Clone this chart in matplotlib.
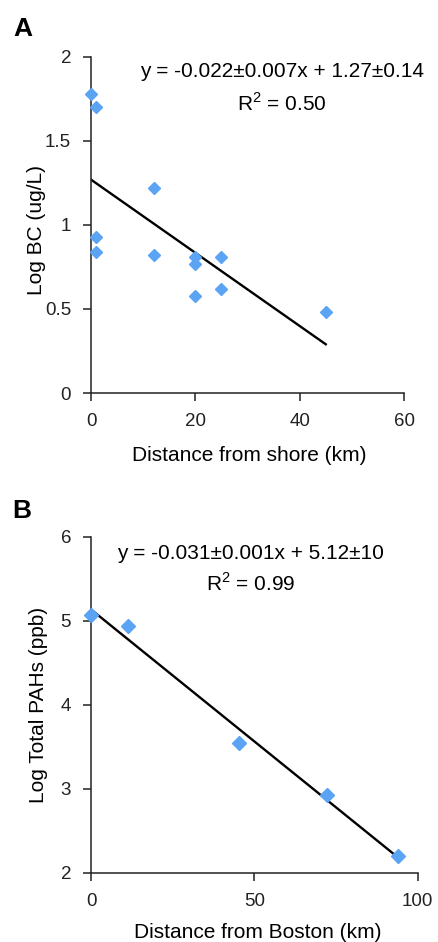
import matplotlib
matplotlib.use("Agg")
import matplotlib.pyplot as plt

plt.rcParams["font.family"] = ["Liberation Sans", "DejaVu Sans"]
plt.rcParams["mathtext.fontset"] = "custom"
plt.rcParams["mathtext.rm"] = "Liberation Sans"

# Panel A: black carbon vs distance from shore
shore_km = [0, 1, 1, 1, 12, 12, 20, 20, 20, 25, 25, 45]
log_bc = [1.78, 1.70, 0.93, 0.84, 1.22, 0.82, 0.81, 0.77, 0.58, 0.81, 0.62, 0.48]
fit_a_x = [0, 45]
fit_a_y = [1.27, 0.29]

# Panel B: total PAHs vs distance from Boston
boston_km = [0, 11.3, 45.2, 72.3, 94.1]
log_pah = [5.07, 4.94, 3.54, 2.93, 2.20]
fit_b_x = [0.5, 94]
fit_b_y = [5.12, 2.18]

blue = "#5BA4F4"
tick_fs = 13.5
lab_fs = 15
eq_fs = 15

fig = plt.figure(figsize=(4.38, 9.42), dpi=100)
ax1 = fig.add_axes([0.2078, 0.5828, 0.7146, 0.3567])
ax2 = fig.add_axes([0.2078, 0.0736, 0.746, 0.3564])

def style(ax):
    for s in ("top", "right"):
        ax.spines[s].set_visible(False)
    for s in ("left", "bottom"):
        ax.spines[s].set_linewidth(1.1)
        ax.spines[s].set_color("#222222")
    ax.tick_params(direction="out", length=5.8, width=1.1, labelsize=tick_fs,
                   colors="#222222", pad=8.5)

ax1.plot(shore_km, log_bc, "D", color=blue, markersize=5.8, zorder=3, clip_on=False)
ax1.plot(fit_a_x, fit_a_y, color="black", lw=1.7, zorder=2)
ax1.set_xlim(0, 60)
ax1.set_ylim(0, 2)
ax1.set_xticks([0, 20, 40, 60])
ax1.set_yticks([0, 0.5, 1, 1.5, 2])
ax1.set_yticklabels(["0", "0.5", "1", "1.5", "2"])
ax1.set_xlabel("Distance from shore (km)", fontsize=lab_fs)
ax1.set_ylabel("Log BC (ug/L)", fontsize=lab_fs)
ax1.xaxis.set_label_coords(0.505, -0.158)
ax1.yaxis.set_label_coords(-0.143, 0.485)
style(ax1)
ax1.text(0.609, 0.958, "y = -0.022\u00b10.007x + 1.27\u00b10.14", transform=ax1.transAxes,
         ha="center", va="center", fontsize=eq_fs)
ax1.text(0.609, 0.863, "R$^2$ = 0.50", transform=ax1.transAxes,
         ha="center", va="center", fontsize=eq_fs)
fig.text(22.5 / 438, 1 - 28.5 / 942, "A", fontsize=19, fontweight="bold",
         ha="center", va="center")

ax2.plot(boston_km, log_pah, "D", color=blue, markersize=7, zorder=3, clip_on=False)
ax2.plot(fit_b_x, fit_b_y, color="black", lw=1.7, zorder=2)
ax2.set_xlim(0, 100)
ax2.set_ylim(2, 6)
ax2.set_xticks([0, 50, 100])
ax2.set_yticks([2, 3, 4, 5, 6])
ax2.set_xlabel("Distance from Boston (km)", fontsize=lab_fs)
ax2.set_ylabel("Log Total PAHs (ppb)", fontsize=lab_fs)
ax2.xaxis.set_label_coords(0.51, -0.150)
ax2.yaxis.set_label_coords(-0.131, 0.5)
style(ax2)
ax2.text(0.489, 0.952, "y = -0.031\u00b10.001x + 5.12\u00b110", transform=ax2.transAxes,
         ha="center", va="center", fontsize=eq_fs)
ax2.text(0.489, 0.860, "R$^2$ = 0.99", transform=ax2.transAxes,
         ha="center", va="center", fontsize=eq_fs)
fig.text(22 / 438, 1 - 511 / 942, "B", fontsize=19, fontweight="bold",
         ha="center", va="center")

fig.savefig("out.png", dpi=100)
